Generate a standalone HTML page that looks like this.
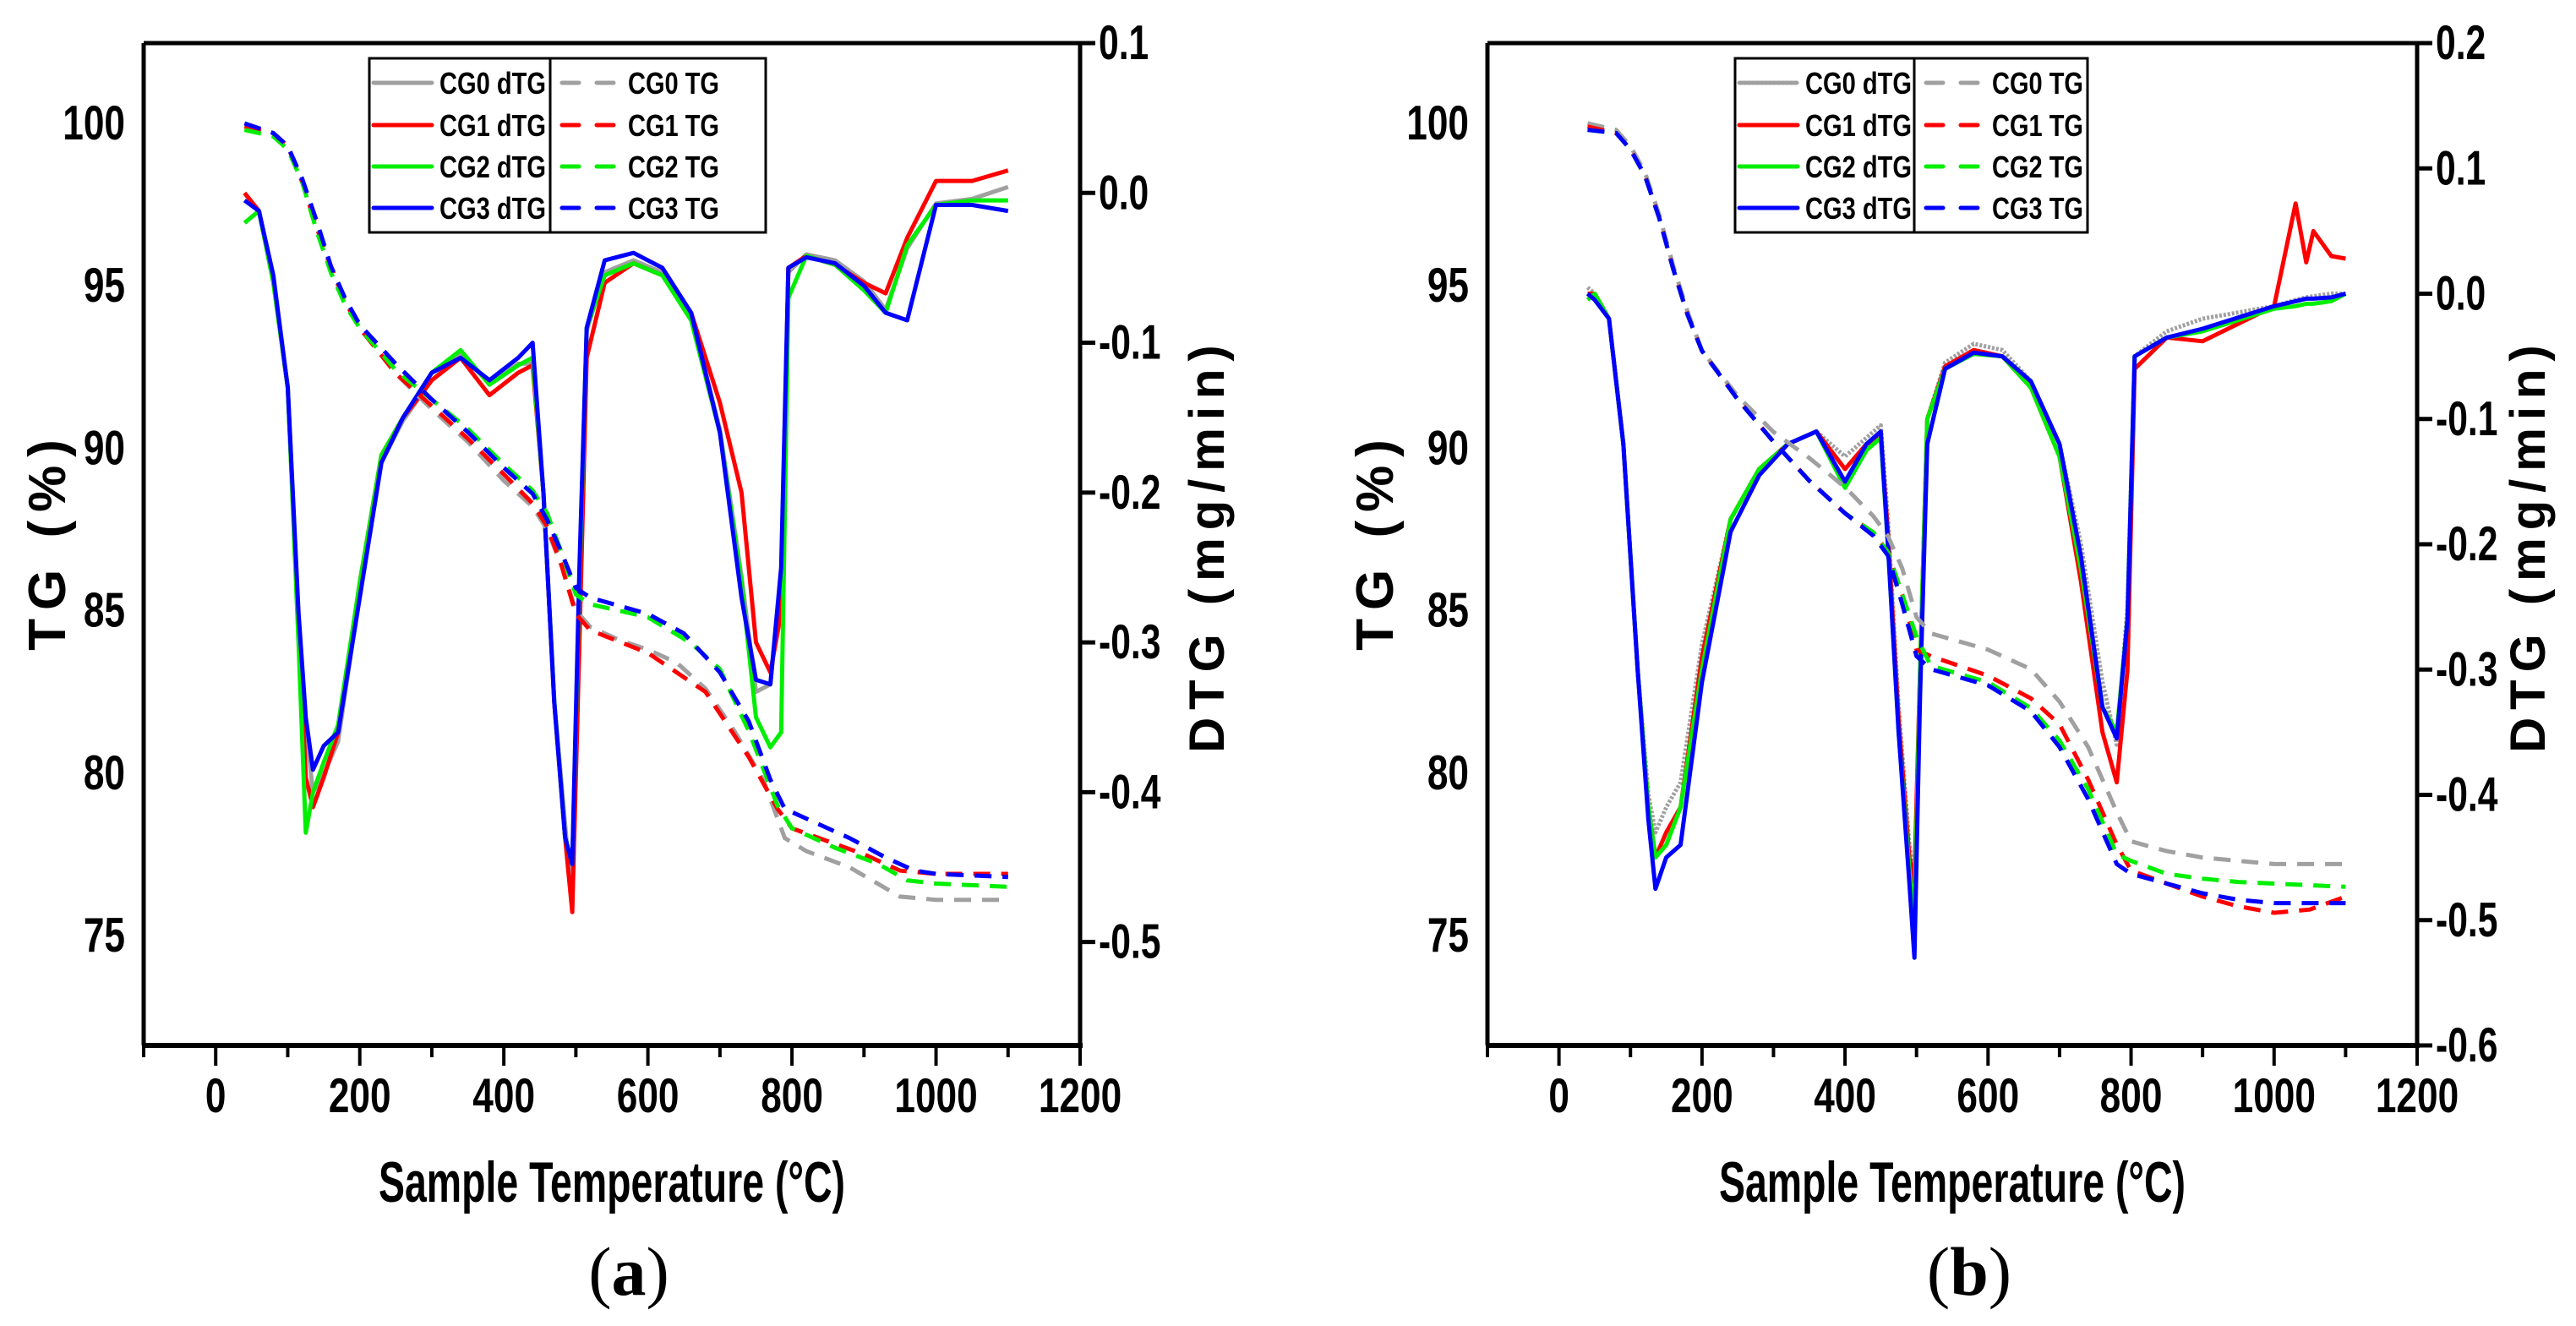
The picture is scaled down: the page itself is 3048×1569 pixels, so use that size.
<!DOCTYPE html>
<html><head><meta charset="utf-8"><style>
html,body{margin:0;padding:0;background:#fff;}
svg{display:block;}
text{font-family:"Liberation Sans",sans-serif;font-weight:bold;fill:#000;}
</style></head><body>
<svg id="fig" width="3048" height="1569" viewBox="0 0 3048 1569" xmlns="http://www.w3.org/2000/svg"></svg>
<script>
// ---------- Chart (a) data ----------
const a_T_cg0tg = [40,80,100,120,140,160,180,200,250,300,350,400,440,460,480,500,520,560,600,640,680,720,760,790,820,880,950,1000,1100];
const a_V_cg0tg = [99.9,99.7,99.3,98.2,96.8,95.5,94.5,93.7,92.3,91.2,90.2,89.0,88.2,87.5,86.4,85.0,84.5,84.1,83.8,83.4,82.6,81.3,79.8,78.0,77.6,77.1,76.2,76.1,76.1];
const a_T_cg1tg = [40,80,100,120,140,160,180,200,250,300,350,400,440,460,480,500,520,600,680,740,780,800,850,900,950,1000,1100];
const a_V_cg1tg = [99.9,99.7,99.3,98.2,96.8,95.6,94.5,93.7,92.3,91.3,90.3,89.2,88.3,87.6,86.4,84.9,84.4,83.7,82.5,80.5,78.9,78.3,77.9,77.5,77.0,76.9,76.9];
const a_T_cg2tg = [40,80,100,120,140,160,180,200,250,300,350,400,440,460,480,500,520,600,660,700,740,780,800,860,920,960,1000,1100];
const a_V_cg2tg = [99.8,99.6,99.2,98.2,96.7,95.4,94.4,93.7,92.4,91.5,90.6,89.5,88.7,88.0,86.8,85.5,85.2,84.8,84.0,83.2,81.3,79.0,78.3,77.7,77.2,76.7,76.6,76.5];
const a_T_cg3tg = [40,80,100,120,140,160,180,200,250,300,350,400,440,460,480,500,520,600,650,700,740,770,790,820,880,930,970,1000,1100];
const a_V_cg3tg = [100,99.7,99.3,98.3,97.0,95.6,94.6,93.8,92.6,91.5,90.5,89.4,88.6,87.8,86.8,85.7,85.4,84.9,84.3,83.1,81.6,79.8,78.9,78.6,78.0,77.4,77.0,76.9,76.8];

const a_T_dtg = [40,60,80,100,115,125,135,150,170,200,230,260,300,340,380,420,440,455,470,485,495,505,515,540,580,620,660,700,730,750,770,785,795,820,860,900,930,960,1000,1050,1100];
const a_V_cg0dtg = [0.0,-0.012,-0.059,-0.13,-0.284,-0.355,-0.40,-0.388,-0.366,-0.267,-0.18,-0.152,-0.125,-0.108,-0.127,-0.114,-0.114,-0.2,-0.339,-0.421,-0.476,-0.256,-0.092,-0.053,-0.045,-0.053,-0.081,-0.158,-0.256,-0.333,-0.328,-0.256,-0.053,-0.041,-0.045,-0.059,-0.078,-0.037,-0.007,-0.004,0.004];
const a_V_cg1dtg = [0.0,-0.012,-0.059,-0.13,-0.29,-0.39,-0.41,-0.39,-0.36,-0.26,-0.175,-0.15,-0.125,-0.11,-0.135,-0.12,-0.115,-0.2,-0.34,-0.43,-0.48,-0.3,-0.11,-0.06,-0.047,-0.055,-0.08,-0.14,-0.2,-0.3,-0.32,-0.28,-0.05,-0.042,-0.048,-0.06,-0.067,-0.03,0.008,0.008,0.015];
const a_V_cg2dtg = [-0.02,-0.012,-0.06,-0.13,-0.3,-0.427,-0.40,-0.38,-0.355,-0.26,-0.175,-0.15,-0.12,-0.105,-0.128,-0.115,-0.11,-0.2,-0.339,-0.43,-0.448,-0.26,-0.09,-0.055,-0.047,-0.055,-0.085,-0.16,-0.26,-0.35,-0.37,-0.36,-0.07,-0.042,-0.048,-0.065,-0.08,-0.035,-0.008,-0.005,-0.005];
const a_V_cg3dtg = [-0.005,-0.012,-0.055,-0.13,-0.28,-0.35,-0.385,-0.369,-0.36,-0.27,-0.18,-0.15,-0.12,-0.11,-0.125,-0.11,-0.1,-0.2,-0.34,-0.43,-0.448,-0.25,-0.09,-0.045,-0.04,-0.05,-0.08,-0.16,-0.27,-0.325,-0.328,-0.25,-0.05,-0.043,-0.047,-0.062,-0.08,-0.085,-0.008,-0.008,-0.012];

// ---------- Chart (b) data ----------
const b_T_tg = [40,80,100,120,140,160,180,200,250,300,350,400,440,460,480,500,520,600,660,700,740,780,800,850,900,950,1000,1050,1100];
const b_V_cg0tg = [100,99.8,99.3,98.5,97.2,95.6,94.2,93.0,91.6,90.5,89.7,88.8,87.9,87.3,86.3,84.8,84.3,83.8,83.2,82.2,80.8,78.8,77.9,77.6,77.4,77.3,77.2,77.2,77.2];
const b_V_cg1tg = [99.9,99.7,99.2,98.4,97.1,95.5,94.1,93.0,91.5,90.2,89.0,88.0,87.4,86.8,85.5,83.8,83.6,83.0,82.3,81.5,79.8,77.8,77.0,76.6,76.2,75.9,75.7,75.8,76.2];
const b_V_cg2tg = [99.8,99.7,99.2,98.4,97.1,95.5,94.1,93.0,91.5,90.2,89.0,88.0,87.4,86.8,85.5,84.2,83.3,82.8,82.0,81.0,79.5,77.5,77.3,76.9,76.75,76.65,76.6,76.55,76.5];
const b_V_cg3tg = [99.8,99.7,99.2,98.4,97.1,95.5,94.1,93.0,91.5,90.2,89.0,88.0,87.3,86.7,85.2,83.6,83.2,82.7,81.9,80.8,79.2,77.2,76.9,76.6,76.3,76.1,76.0,76.0,76.0];

const b_T_dtg = [40,50,70,90,110,125,135,150,170,200,240,280,320,360,400,430,450,460,475,490,497,505,515,540,580,620,660,700,730,760,780,795,805,850,900,1000,1030,1045,1055,1080,1100];
const b_V_cg0dtg = [0.005,0.0,-0.02,-0.12,-0.3,-0.40,-0.43,-0.41,-0.39,-0.28,-0.18,-0.14,-0.12,-0.11,-0.13,-0.115,-0.105,-0.18,-0.33,-0.44,-0.47,-0.3,-0.1,-0.055,-0.04,-0.045,-0.07,-0.12,-0.2,-0.31,-0.36,-0.25,-0.05,-0.03,-0.02,-0.01,-0.005,-0.003,-0.002,0.0,0.0];
const b_V_cg1dtg = [0.0,0.0,-0.02,-0.12,-0.3,-0.41,-0.45,-0.43,-0.41,-0.29,-0.18,-0.14,-0.12,-0.11,-0.14,-0.12,-0.115,-0.19,-0.34,-0.45,-0.47,-0.3,-0.1,-0.058,-0.045,-0.05,-0.075,-0.13,-0.23,-0.35,-0.39,-0.3,-0.06,-0.035,-0.038,-0.01,0.072,0.025,0.05,0.03,0.028];
const b_V_cg2dtg = [-0.005,0.0,-0.02,-0.12,-0.3,-0.41,-0.45,-0.44,-0.41,-0.3,-0.18,-0.14,-0.12,-0.11,-0.155,-0.125,-0.115,-0.2,-0.35,-0.46,-0.5,-0.3,-0.1,-0.06,-0.048,-0.05,-0.075,-0.13,-0.22,-0.33,-0.35,-0.26,-0.05,-0.035,-0.03,-0.012,-0.01,-0.008,-0.008,-0.006,0.0];
const b_V_cg3dtg = [0.0,-0.005,-0.02,-0.12,-0.3,-0.42,-0.475,-0.45,-0.44,-0.31,-0.19,-0.145,-0.12,-0.11,-0.15,-0.12,-0.11,-0.2,-0.35,-0.47,-0.53,-0.32,-0.12,-0.06,-0.047,-0.05,-0.07,-0.12,-0.21,-0.33,-0.355,-0.26,-0.05,-0.035,-0.028,-0.01,-0.006,-0.004,-0.004,-0.003,0.0];

// ---------- tick label arrays ----------
const xTicks = [0,200,400,600,800,1000,1200];
const tgTicks = [75,80,85,90,95,100];
const a_dtgTicks = [0.1,0.0,-0.1,-0.2,-0.3,-0.4,-0.5];
const b_dtgTicks = [0.2,0.1,0.0,-0.1,-0.2,-0.3,-0.4,-0.5,-0.6];

const NS = "http://www.w3.org/2000/svg";
const fig = document.getElementById('fig');
function mk(tag, attrs, parent) {
  const e = document.createElementNS(NS, tag);
  for (const k in attrs) e.setAttribute(k, attrs[k]);
  (parent || fig).appendChild(e);
  return e;
}
const COL = ['#a0a0a0','#ff0000','#00ee00','#0000ff'];

function chart(cfg) {
  const g = mk('g', {});
  
  
  const L = cfg.L, R = cfg.R, T = 51, B = 1237;
  const xs = v => L + (v - (-100)) / 1300 * (R - L);
  const yTG = v => 146 + (100 - v) * 38.44;
  const yD = v => T + (cfg.dMax - v) / (cfg.dMax - cfg.dMin) * (B - T);

  cfg.dtg.forEach((s, i) => {
    const p = mk('polyline', {points: s.T.map((t, j) => xs(t).toFixed(1) + ',' + yD(s.V[j]).toFixed(1)).join(' '),
      fill: 'none', stroke: COL[i], 'stroke-width': 5, 'stroke-linejoin': 'round'}, g);
    if (cfg.dotGray && i === 0) p.setAttribute('stroke-dasharray', '3,2');
    
    
  });
  cfg.tg.forEach((s, i) => {
    const p = mk('polyline', {points: s.T.map((t, j) => xs(t).toFixed(1) + ',' + yTG(s.V[j]).toFixed(1)).join(' '),
      fill: 'none', stroke: COL[i], 'stroke-width': 5, 'stroke-dasharray': '20,13'}, g);
    
    
  });

  const ax = mk('g', {}, g);
  
  
  mk('line', {x1: L, y1: B, x2: R + 3, y2: B, stroke: '#000', 'stroke-width': 6}, ax);
  mk('line', {x1: L, y1: T, x2: L, y2: B, stroke: '#000', 'stroke-width': 5}, ax);
  mk('line', {x1: L, y1: T, x2: R + 18, y2: T, stroke: '#000', 'stroke-width': 5}, ax);
  mk('line', {x1: R, y1: T, x2: R, y2: B, stroke: '#000', 'stroke-width': 5}, ax);
  for (let v = -100; v <= 1200; v += 100) {
    const major = v % 200 === 0;
    mk('line', {x1: xs(v), y1: B, x2: xs(v), y2: B + (major ? 24 : 14), stroke: '#000', 'stroke-width': 4}, ax);
  }
  xTicks.forEach(v => {
    const t = mk('text', {x: 0, y: 0, 'text-anchor': 'middle', 'font-size': 52, transform: 'translate(' + xs(v) + ',1316) scale(0.85,1.1)'}, ax);
    t.textContent = v;
    
    
  });
  tgTicks.forEach(v => {
    const t = mk('text', {x: 0, y: 0, 'text-anchor': 'end', 'font-size': 52, transform: 'translate(' + (L - 22) + ',' + (yTG(v) + 19) + ') scale(0.85,1.1)'}, ax);
    t.textContent = v;
    
    
  });
  cfg.dTicks.forEach(v => {
    mk('line', {x1: R, y1: yD(v), x2: R + 18, y2: yD(v), stroke: '#000', 'stroke-width': 5}, ax);
    const t = mk('text', {x: 0, y: 0, 'font-size': 52, transform: 'translate(' + (R + 22) + ',' + (yD(v) + 19) + ') scale(0.82,1.1)'}, ax);
    t.textContent = v.toFixed(1);
    
    
  });

  const xt = mk('text', {x: cfg.xtx, y: 1422, 'text-anchor': 'middle', 'font-size': 68, textLength: 552, lengthAdjust: 'spacingAndGlyphs'}, g);
  xt.textContent = 'Sample Temperature (°C)';
  
  
  const yt = mk('text', {x: 0, y: 0, 'text-anchor': 'middle', 'font-size': 62, 'letter-spacing': 10,
    transform: 'translate(' + (cfg.tgx + 22) + ',640) rotate(-90)'}, g);
  yt.textContent = 'TG (%)';
  
  
  const dt = mk('text', {x: 0, y: 0, 'text-anchor': 'middle', 'font-size': 58, 'letter-spacing': 9,
    transform: 'translate(' + (cfg.dtx + 26) + ',645) rotate(-90)'}, g);
  dt.textContent = 'DTG (mg/min)';
  
  
  const cap = mk('text', {x: cfg.xtx + 20, y: 1532, 'text-anchor': 'middle', 'font-size': 82,
    style: 'font-family:"Liberation Serif",serif;font-weight:normal'}, g);
  cap.innerHTML = '(<tspan font-weight="bold">' + cfg.label + '</tspan>)';
  
  

  const lg = mk('g', {}, g);
  
  
  const lx = cfg.lg[0], lx2 = cfg.lg[1], ldiv = cfg.lg[2];
  mk('rect', {x: lx, y: 69, width: lx2 - lx, height: 206, fill: '#fff', stroke: '#000', 'stroke-width': 3}, lg);
  mk('line', {x1: ldiv, y1: 69, x2: ldiv, y2: 275, stroke: '#000', 'stroke-width': 3}, lg);
  [98, 148, 197, 246].forEach((yy, i) => {
    const l1 = mk('line', {x1: lx + 5, y1: yy, x2: lx + 74, y2: yy, stroke: COL[i], 'stroke-width': 5, 'stroke-linecap': 'round'}, lg);
    if (cfg.dotGray && i === 0) l1.setAttribute('stroke-dasharray', '3,2');
    const t1 = mk('text', {x: lx + 83, y: yy + 13, 'font-size': 36, textLength: 126, lengthAdjust: 'spacingAndGlyphs'}, lg);
    t1.textContent = 'CG' + i + ' dTG';
    
    
    mk('line', {x1: ldiv + 14, y1: yy, x2: ldiv + 84, y2: yy, stroke: COL[i], 'stroke-width': 5, 'stroke-dasharray': '20,21', 'stroke-linecap': 'round'}, lg);
    const t2 = mk('text', {x: ldiv + 92, y: yy + 13, 'font-size': 36, textLength: 108, lengthAdjust: 'spacingAndGlyphs'}, lg);
    t2.textContent = 'CG' + i + ' TG';
    
    
  });
}

chart({name: 'chart-a', L: 170, R: 1278, dMax: 0.1, dMin: -0.569, dTicks: a_dtgTicks, xtx: 724, tgx: 55, dtx: 1422, label: 'a',
  lg: [437, 906, 651], dotGray: false,
  tg: [{T: a_T_cg0tg, V: a_V_cg0tg}, {T: a_T_cg1tg, V: a_V_cg1tg}, {T: a_T_cg2tg, V: a_V_cg2tg}, {T: a_T_cg3tg, V: a_V_cg3tg}],
  dtg: [{T: a_T_dtg, V: a_V_cg0dtg}, {T: a_T_dtg, V: a_V_cg1dtg}, {T: a_T_dtg, V: a_V_cg2dtg}, {T: a_T_dtg, V: a_V_cg3dtg}]});
chart({name: 'chart-b', L: 1760, R: 2860, dMax: 0.2, dMin: -0.6, dTicks: b_dtgTicks, xtx: 2310, tgx: 1626, dtx: 2985, label: 'b',
  lg: [2053, 2470, 2265], dotGray: true,
  tg: [{T: b_T_tg, V: b_V_cg0tg}, {T: b_T_tg, V: b_V_cg1tg}, {T: b_T_tg, V: b_V_cg2tg}, {T: b_T_tg, V: b_V_cg3tg}],
  dtg: [{T: b_T_dtg, V: b_V_cg0dtg}, {T: b_T_dtg, V: b_V_cg1dtg}, {T: b_T_dtg, V: b_V_cg2dtg}, {T: b_T_dtg, V: b_V_cg3dtg}]});
</script>
</body></html>
